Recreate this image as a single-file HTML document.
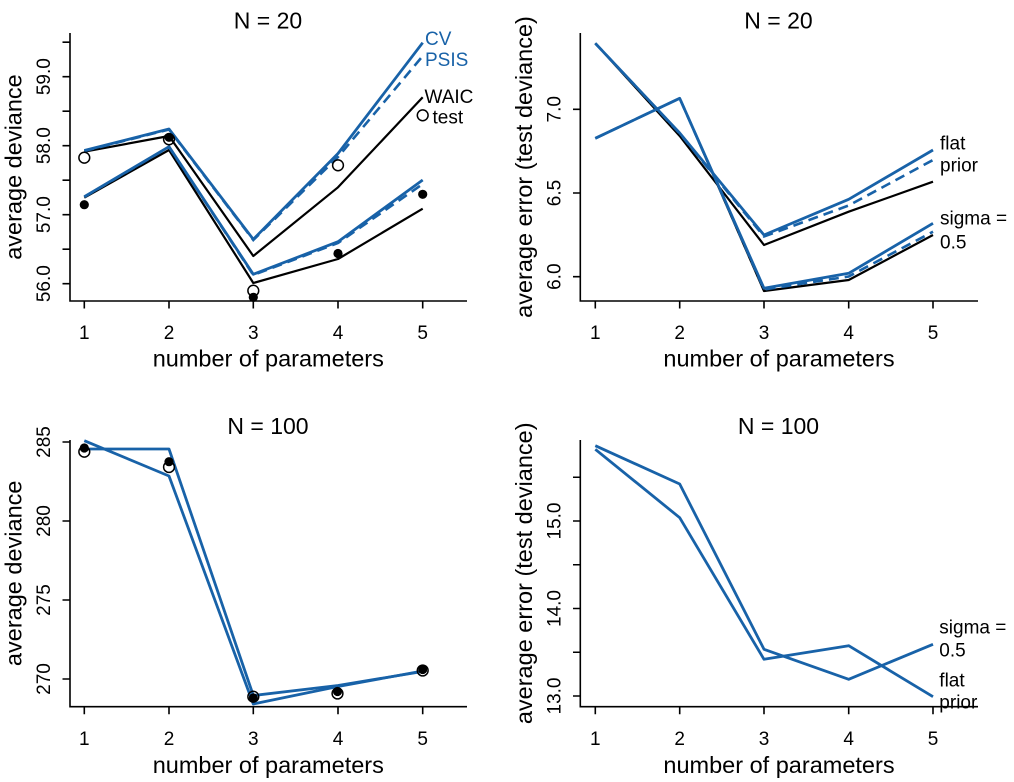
<!DOCTYPE html>
<html>
<head>
<meta charset="utf-8">
<style>
html,body{margin:0;padding:0;background:#fff;}
svg{display:block;}
text{font-family:"Liberation Sans",Arial,sans-serif;fill:#000;}
.t{font-size:19px;}
.lab{font-size:23.5px;}
.ttl{font-size:23px;}
.ax{fill:none;stroke:#000;stroke-width:1.6;}
.bk{fill:none;stroke:#000;stroke-width:2.2;stroke-linejoin:round;}
.bl{fill:none;stroke:#1862a8;stroke-width:2.8;stroke-linejoin:round;}
.bd{fill:none;stroke:#1862a8;stroke-width:2.6;stroke-dasharray:10 6;}
.oc{fill:none;stroke:#000;stroke-width:1.5;}
.fc{fill:#000;}
</style>
</head>
<body>
<svg width="1014" height="782" viewBox="0 0 1014 782" xmlns="http://www.w3.org/2000/svg">
<rect width="1014" height="782" fill="#fff"/>

<!-- ============ TOP LEFT ============ -->
<text class="ttl" x="268" y="28.5" text-anchor="middle">N = 20</text>
<path class="ax" d="M70,33 V301 H467"/>
<path class="ax" d="M62.5,283.7H70 M62.5,249.2H70 M62.5,214.7H70 M62.5,180.2H70 M62.5,145.7H70 M62.5,111.2H70 M62.5,76.7H70 M62.5,42.2H70"/>
<path class="ax" d="M84.3,301V308.5 M169,301V308.5 M253.3,301V308.5 M338,301V308.5 M422.7,301V308.5"/>
<text class="t" transform="translate(50,283.7) rotate(-90)" text-anchor="middle">56.0</text>
<text class="t" transform="translate(50,214.7) rotate(-90)" text-anchor="middle">57.0</text>
<text class="t" transform="translate(50,145.7) rotate(-90)" text-anchor="middle">58.0</text>
<text class="t" transform="translate(50,76.7) rotate(-90)" text-anchor="middle">59.0</text>
<text class="t" x="84.3" y="339" text-anchor="middle">1</text>
<text class="t" x="169" y="339" text-anchor="middle">2</text>
<text class="t" x="253.3" y="339" text-anchor="middle">3</text>
<text class="t" x="338" y="339" text-anchor="middle">4</text>
<text class="t" x="422.7" y="339" text-anchor="middle">5</text>
<text class="lab" x="268.3" y="366.7" text-anchor="middle">number of parameters</text>
<text class="lab" transform="translate(21.7,167) rotate(-90)" text-anchor="middle">average deviance</text>

<path class="bk" d="M84.3,151.7 L169,136 L253.3,256 L338,187.3 L422.7,97.3"/>
<path class="bk" d="M84.3,197.7 L169,150 L253.3,283 L338,259 L422.7,208.7"/>
<path class="bl" d="M84.3,150.5 L169,129 L253.3,239.3 L338,153.5 L422.7,42.7"/>
<path class="bd" d="M84.3,151 L169,129.5 L253.3,240 L338,157 L422.7,56"/>
<path class="bl" d="M84.3,196.7 L169,146.7 L253.3,274.3 L338,241.7 L422.7,180"/>
<path class="bd" d="M84.3,197 L169,147 L253.3,275 L338,243 L422.7,184"/>

<circle class="fc" cx="84.3" cy="204.7" r="4.6"/>
<circle class="fc" cx="169" cy="137.3" r="4.6"/>
<circle class="fc" cx="253.3" cy="297.3" r="4.6"/>
<circle class="fc" cx="338" cy="253.5" r="4.6"/>
<circle class="fc" cx="422.7" cy="194.3" r="4.6"/>
<circle class="oc" cx="84.3" cy="157.7" r="5.4"/>
<circle class="oc" cx="169" cy="139.3" r="5.4"/>
<circle class="oc" cx="253.3" cy="290.7" r="5.4"/>
<circle class="oc" cx="338" cy="165.3" r="5.4"/>
<circle class="oc" cx="422.7" cy="115.3" r="5.4"/>

<text class="t" x="425" y="45" style="fill:#1862a8">CV</text>
<text class="t" x="425" y="66" style="fill:#1862a8">PSIS</text>
<text class="t" x="424.5" y="103">WAIC</text>
<text class="t" x="432.5" y="123.5">test</text>

<!-- ============ TOP RIGHT ============ -->
<text class="ttl" x="778.5" y="28.5" text-anchor="middle">N = 20</text>
<path class="ax" d="M580.3,33 V301 H978"/>
<path class="ax" d="M573,276.7H580.3 M573,193H580.3 M573,109.3H580.3"/>
<path class="ax" d="M595.3,301V308.5 M679.7,301V308.5 M764,301V308.5 M848.7,301V308.5 M933,301V308.5"/>
<text class="t" transform="translate(560.4,276.7) rotate(-90)" text-anchor="middle">6.0</text>
<text class="t" transform="translate(560.4,193) rotate(-90)" text-anchor="middle">6.5</text>
<text class="t" transform="translate(560.4,109.3) rotate(-90)" text-anchor="middle">7.0</text>
<text class="t" x="595.3" y="339" text-anchor="middle">1</text>
<text class="t" x="679.7" y="339" text-anchor="middle">2</text>
<text class="t" x="764" y="339" text-anchor="middle">3</text>
<text class="t" x="848.7" y="339" text-anchor="middle">4</text>
<text class="t" x="933" y="339" text-anchor="middle">5</text>
<text class="lab" x="779" y="366.7" text-anchor="middle">number of parameters</text>
<text class="lab" transform="translate(532,167) rotate(-90)" text-anchor="middle">average error (test deviance)</text>

<path class="bk" d="M595.3,43.3 L679.7,136 L764,245 L848.7,211.7 L933,181.7"/>
<path class="bk" d="M595.3,138.3 L679.7,98.3 L764,291 L848.7,280 L933,235"/>
<path class="bl" d="M595.3,43.3 L679.7,133 L764,235 L848.7,199.3 L933,150"/>
<path class="bd" d="M595.3,43.3 L679.7,133.5 L764,236.5 L848.7,205.5 L933,160"/>
<path class="bl" d="M595.3,138.3 L679.7,98.3 L764,288.3 L848.7,273.3 L933,223.3"/>
<path class="bd" d="M595.3,138.3 L679.7,98.3 L764,289.5 L848.7,276.5 L933,231.7"/>

<text class="t" x="940" y="149.5">flat</text>
<text class="t" x="940" y="171.5">prior</text>
<text class="t" x="940" y="224.3">sigma =</text>
<text class="t" x="940" y="248.3">0.5</text>

<!-- ============ BOTTOM LEFT ============ -->
<text class="ttl" x="268" y="434" text-anchor="middle">N = 100</text>
<path class="ax" d="M70,440 V706.7 H467"/>
<path class="ax" d="M62.5,679H70 M62.5,600H70 M62.5,521H70 M62.5,442H70"/>
<path class="ax" d="M84.3,706.7V714.2 M169,706.7V714.2 M253.3,706.7V714.2 M338,706.7V714.2 M422.7,706.7V714.2"/>
<text class="t" transform="translate(50,679) rotate(-90)" text-anchor="middle">270</text>
<text class="t" transform="translate(50,600) rotate(-90)" text-anchor="middle">275</text>
<text class="t" transform="translate(50,521) rotate(-90)" text-anchor="middle">280</text>
<text class="t" transform="translate(50,442) rotate(-90)" text-anchor="middle">285</text>
<text class="t" x="84.3" y="745" text-anchor="middle">1</text>
<text class="t" x="169" y="745" text-anchor="middle">2</text>
<text class="t" x="253.3" y="745" text-anchor="middle">3</text>
<text class="t" x="338" y="745" text-anchor="middle">4</text>
<text class="t" x="422.7" y="745" text-anchor="middle">5</text>
<text class="lab" x="268.3" y="773" text-anchor="middle">number of parameters</text>
<text class="lab" transform="translate(21.7,573.3) rotate(-90)" text-anchor="middle">average deviance</text>

<path class="bl" d="M84.3,449 L169,449 L253.3,695.5 L338,685.5 L422.7,671.5"/>
<path class="bl" d="M84.3,440.7 L169,476 L253.3,704 L338,686.5 L422.7,671"/>

<circle class="fc" cx="84.3" cy="448" r="4.6"/>
<circle class="fc" cx="169" cy="461.7" r="4.6"/>
<circle class="fc" cx="253.3" cy="698" r="4.6"/>
<circle class="fc" cx="337.5" cy="691.5" r="4.6"/>
<circle class="fc" cx="422.7" cy="669.5" r="4.6"/>
<circle class="oc" cx="84.3" cy="451.7" r="5.4"/>
<circle class="oc" cx="169" cy="467" r="5.4"/>
<circle class="oc" cx="253.3" cy="696.7" r="5.4"/>
<circle class="oc" cx="337.5" cy="693.5" r="5.4"/>
<circle class="oc" cx="422.7" cy="670.5" r="5.4"/>

<!-- ============ BOTTOM RIGHT ============ -->
<text class="ttl" x="778.5" y="434" text-anchor="middle">N = 100</text>
<path class="ax" d="M580.3,440 V706.7 H978"/>
<path class="ax" d="M573,696H580.3 M573,652.25H580.3 M573,608.5H580.3 M573,564.75H580.3 M573,521H580.3 M573,477.25H580.3"/>
<path class="ax" d="M595.3,706.7V714.2 M679.7,706.7V714.2 M764,706.7V714.2 M848.7,706.7V714.2 M933,706.7V714.2"/>
<text class="t" transform="translate(560.4,696) rotate(-90)" text-anchor="middle">13.0</text>
<text class="t" transform="translate(560.4,608.5) rotate(-90)" text-anchor="middle">14.0</text>
<text class="t" transform="translate(560.4,521) rotate(-90)" text-anchor="middle">15.0</text>
<text class="t" x="595.3" y="745" text-anchor="middle">1</text>
<text class="t" x="679.7" y="745" text-anchor="middle">2</text>
<text class="t" x="764" y="745" text-anchor="middle">3</text>
<text class="t" x="848.7" y="745" text-anchor="middle">4</text>
<text class="t" x="933" y="745" text-anchor="middle">5</text>
<text class="lab" x="779" y="773" text-anchor="middle">number of parameters</text>
<text class="lab" transform="translate(532,573.3) rotate(-90)" text-anchor="middle">average error (test deviance)</text>

<path class="bl" d="M595.3,445.7 L679.7,484 L764,649.3 L848.7,679.3 L933,644.3"/>
<path class="bl" d="M595.3,449.3 L679.7,517.7 L764,659.3 L848.7,645.7 L933,696.7"/>

<text class="t" x="939.3" y="633.3">sigma =</text>
<text class="t" x="939.3" y="656.7">0.5</text>
<text class="t" x="939.3" y="686.7">flat</text>
<text class="t" x="939.3" y="708.3">prior</text>
</svg>
</body>
</html>
